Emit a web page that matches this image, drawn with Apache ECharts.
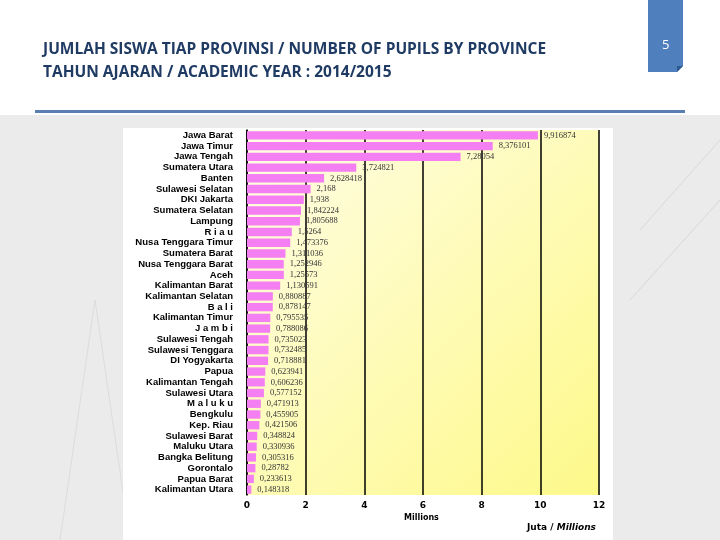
<!DOCTYPE html>
<html><head><meta charset="utf-8">
<script src="https://cdn.jsdelivr.net/npm/echarts@6/dist/echarts.min.js"></script>
<style>html,body{margin:0;padding:0;background:#fff}#c{width:720px;height:540px}</style>
</head><body><div id="c"></div>
<script>
const provinces = ["Jawa Barat","Jawa Timur","Jawa Tengah","Sumatera Utara","Banten","Sulawesi Selatan","DKI Jakarta","Sumatera Selatan","Lampung","R i a u","Nusa Tenggara Timur","Sumatera Barat","Nusa Tenggara Barat","Aceh","Kalimantan Barat","Kalimantan Selatan","B a l i","Kalimantan Timur","J a m b i","Sulawesi Tengah","Sulawesi Tenggara","DI Yogyakarta","Papua","Kalimantan Tengah","Sulawesi Utara","M a l u k u","Bengkulu","Kep. Riau","Sulawesi Barat","Maluku Utara","Bangka Belitung","Gorontalo","Papua Barat","Kalimantan Utara"];
const pupils = [9.916874,8.376101,7.28054,3.724821,2.628418,2.168,1.938,1.842224,1.805688,1.5264,1.473376,1.311036,1.252946,1.25573,1.130591,0.880887,0.878147,0.795535,0.788086,0.735023,0.732485,0.718881,0.623941,0.606236,0.577152,0.471913,0.455905,0.421506,0.348824,0.330936,0.305316,0.28782,0.233613,0.148318];
const xTicks = [0,2,4,6,8,10,12];
const titleLines = ["JUMLAH SISWA TIAP PROVINSI / NUMBER OF PUPILS BY PROVINCE","TAHUN AJARAN / ACADEMIC YEAR : 2014/2015"];

const chart = echarts.init(document.getElementById('c'), null, {renderer:'canvas'});
const option = {
  animation:false,
  graphic:[
    {type:'rect', shape:{x:0,y:115,width:720,height:425}, style:{fill:'#ebebeb'}, z:-10},
    {type:'polyline', shape:{points:[[60,540],[95,300],[130,540]]}, style:{stroke:'#dcdcdc',fill:null,lineWidth:1}, z:-9},
    {type:'polyline', shape:{points:[[640,230],[720,140]]}, style:{stroke:'#d8d8d8',fill:null,lineWidth:1}, z:-9},
    {type:'polyline', shape:{points:[[630,300],[720,200]]}, style:{stroke:'#d8d8d8',fill:null,lineWidth:1}, z:-9},
    {type:'rect', shape:{x:123,y:128,width:490,height:412}, style:{fill:'#ffffff'}, z:-8},
    {type:'rect', shape:{x:35,y:110,width:650,height:3}, style:{fill:'#5b7fb3'}},
    {type:'polygon', shape:{points:[[648,0],[683,0],[683,66],[677,72],[648,72]]}, style:{fill:'#4f7fbd'}},
    {type:'polygon', shape:{points:[[677,72],[683,66],[677,66]]}, style:{fill:'#2f5a91'}},
    {type:'text', x:662, y:39, style:{text:'5', fill:'#ffffff', font:'13px "Open Sans"'}},
    {type:'text', x:43, y:42, style:{text:titleLines[0], fill:'#1f3b63', font:'bold 15.5px "Open Sans"'}},
    {type:'text', x:43, y:65, style:{text:titleLines[1], fill:'#1f3b63', font:'bold 15.5px "Open Sans"'}},
    {type:'text', x:404, y:514, style:{text:'Millions', fill:'#000', font:'bold 8px "DejaVu Sans"'}},
    {type:'text', x:527, y:523, style:{text:'{a|Juta / }{b|Millions}', rich:{a:{fill:'#000',fontWeight:'bold',fontSize:9,fontFamily:'DejaVu Sans'}, b:{fill:'#000',fontWeight:'bold',fontStyle:'italic',fontSize:9,fontFamily:'DejaVu Sans'}}}}
  ],
  grid:{left:247, right:121, top:130, bottom:45, backgroundColor:{type:'linear',x:0,y:0,x2:1,y2:1,colorStops:[{offset:0,color:'#fffde6'},{offset:1,color:'#fdf98a'}]}, show:true, borderWidth:0},
  xAxis:{type:'value', min:xTicks[0], max:xTicks[xTicks.length-1], interval:2,
    axisLine:{show:false}, axisTick:{show:false},
    axisLabel:{color:'#000', fontWeight:'bold', fontSize:9, fontFamily:'DejaVu Sans', margin:6},
    splitLine:{show:true, lineStyle:{color:'#000', width:1.5}}},
  yAxis:{type:'category', data:provinces, inverse:true,
    axisLine:{show:true, lineStyle:{color:'#000', width:1.5}}, axisTick:{show:false},
    axisLabel:{interval:0, color:'#000', fontWeight:'bold', fontSize:9.5, fontFamily:'Liberation Sans', margin:14,
      formatter:(v)=> v==='Nusa Tenggara Timur' ? '{big|'+v+'}' : v,
      rich:{big:{fontSize:9.6, fontWeight:'bold', fontFamily:'Liberation Sans', color:'#000'}}}},
  series:[{type:'bar', data:pupils, barCategoryGap:'22%',
    itemStyle:{color:'#f37ff2'},
    label:{show:true, position:'right', distance:6, color:'#333', fontSize:8.5, fontFamily:'Liberation Serif',
      formatter:(p)=> String(p.value).replace('.', ',')}}]
};
chart.setOption(option);
</script></body></html>
